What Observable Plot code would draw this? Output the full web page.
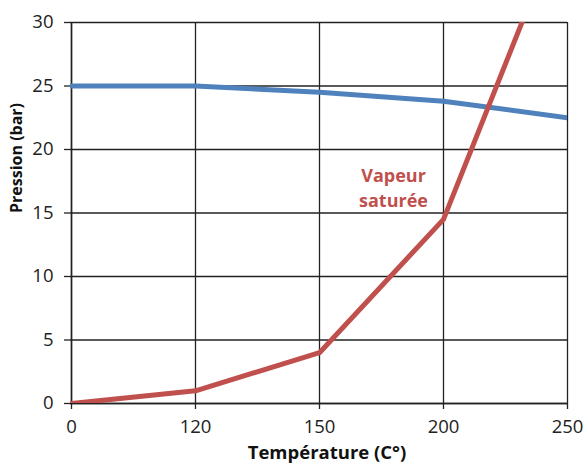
<!DOCTYPE html>
<html>
<head>
<meta charset="utf-8">
<script src="https://cdn.jsdelivr.net/npm/d3@7"></script>
<script src="https://cdn.jsdelivr.net/npm/@observablehq/plot@0.6"></script>
<style>
  html, body { margin: 0; padding: 0; background: #fff; }
  #chart svg { font-family: "Open Sans", sans-serif; }
</style>
</head>
<body>
<div id="chart"></div>
<script>
const temperatures = ["0", "120", "150", "200", "250"];
const pressionLiquide = [25, 25, 24.5, 23.8, 22.5];
const pressionVapeur = [0, 1, 4, 14.5, 39];
const yTicks = [0, 5, 10, 15, 20, 25, 30];
const annotation = [{x: "200", y: 17.1, text: "Vapeur\nsaturée"}];

const blue = temperatures.map((t, i) => ({t, p: pressionLiquide[i]}));
const red = temperatures.map((t, i) => ({t, p: pressionVapeur[i]}));

const chart = Plot.plot({
  width: 585,
  height: 470,
  marginLeft: 70,
  marginRight: 18,
  marginTop: 22,
  marginBottom: 67,
  style: {fontFamily: "'Open Sans', sans-serif", color: "#222"},
  x: {type: "point", domain: temperatures, padding: 0, label: null},
  y: {domain: [0, 30], ticks: yTicks, label: null},
  marks: [
    Plot.gridX(temperatures, {x: d => d, stroke: "#222", strokeOpacity: 1, strokeWidth: 1.3}),
    Plot.gridY(yTicks, {y: d => d, stroke: "#222", strokeOpacity: 1, strokeWidth: 1.3}),
    Plot.axisX({tickSize: 6, tickFormat: () => "", stroke: "#222", strokeWidth: 1.3, label: null}),
    Plot.axisY({ticks: yTicks, tickSize: 6, tickFormat: () => "", stroke: "#222", strokeWidth: 1.3, label: null}),
    Plot.text(temperatures, {x: d => d, frameAnchor: "bottom", dy: 29, fontSize: 18.5, fill: "#222"}),
    Plot.text(yTicks, {y: d => d, text: d => String(d), frameAnchor: "left", textAnchor: "end", dx: -17, fontSize: 18.5, fill: "#222"}),
    Plot.ruleX(["0"], {stroke: "#222", strokeWidth: 1.5}),
    Plot.ruleY([0], {stroke: "#222", strokeWidth: 1.5}),
    Plot.line(blue, {x: "t", y: "p", stroke: "#4F81BD", strokeWidth: 5, clip: true}),
    Plot.line(red, {x: "t", y: "p", stroke: "#C0504D", strokeWidth: 5, clip: true}),
    Plot.text(annotation, {x: "x", y: "y", text: "text", dx: -50, fill: "#C0504D", fontWeight: "bold", fontSize: 18, lineHeight: 1.4}),
    Plot.text(["Température (C°)"], {frameAnchor: "bottom", dx: 8, dy: 55, fontWeight: "bold", fontSize: 18.5, fill: "#111"}),
    Plot.text(["Pression (bar)"], {frameAnchor: "left", dx: -54, rotate: -90, fontWeight: "bold", fontSize: 16, fill: "#111"})
  ]
});
document.getElementById("chart").appendChild(chart);
</script>
</body>
</html>
